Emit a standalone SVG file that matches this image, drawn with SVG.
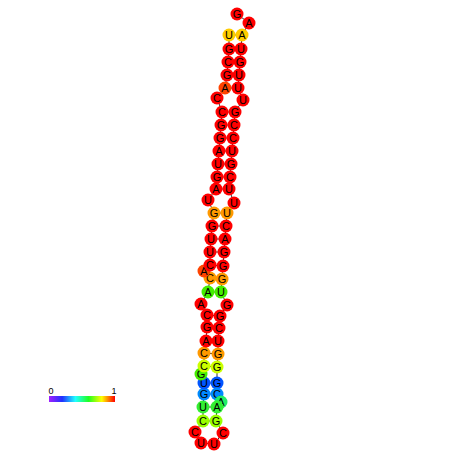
<svg xmlns="http://www.w3.org/2000/svg" width="452" height="452" viewBox="0 0 452 452">
<style>
.bb{stroke:#333;stroke-width:1;fill:none}
.pr{stroke:#333;stroke-width:1;fill:none}
circle{r:6.5;stroke:none}
text{font-family:"Liberation Sans",Arial,sans-serif;font-size:11px;text-anchor:middle;fill:#000}
.r circle{fill:#ff0000}
.o circle{fill:#ff9900}
.or circle{fill:#ff4400}
.y circle{fill:#ffcc00}
.yg circle{fill:#ccff00}
.lg circle{fill:#99ff00}
.g circle{fill:#44ee00}
.g2 circle{fill:#33ee33}
.gc circle{fill:#22ee66}
.b circle{fill:#0055ff}
.b2 circle{fill:#0088ff}
.lab{font-size:9px}
</style>
<defs>
<linearGradient id="cb" x1="0" x2="1" y1="0" y2="0">
<stop offset="0" stop-color="#a020ff"/>
<stop offset="0.2" stop-color="#2030ff"/>
<stop offset="0.4" stop-color="#20ffff"/>
<stop offset="0.6" stop-color="#20ff20"/>
<stop offset="0.8" stop-color="#ffff00"/>
<stop offset="1" stop-color="#ff0000"/>
</linearGradient>
</defs>
<g id="connectors">
<polyline class="bb" points="237,14 249,23 242,35 241,49 240,62 239,75 238,88 243,100 235,112 234,125 233,138 232,151 231,164 230,177 229,189 234,203 227,213 226,226 225,239 224,252 223,266 222,279 221,292 227,305 220,316 219,328 218,341 218,354 217,367 217,383 217,394 221,402 217,407 216,421 223,433 214,444 201,443 195,432 203,421 203,407 204,394 204,383 201,374 204,366 204,353 206,341 207,327 207,315 201,304 208,292 210,278 204,271 210,265 210,252 211,239 212,226 214,213 208,200 216,189 217,177 218,164 219,151 220,138 221,125 222,112 217,98 225,88 227,75 228,62 229,49 229,35"/>
<path class="pr" d="M242,35H229M241,49L229,49M240,62L228,62M239,75L227,75M238,88L225,88M235,112L222,112M234,125L221,125M233,138L220,138M232,151L219,151M231,164L218,164M230,177L217,177M229,189L216,189M227,213L214,213M226,226L212,226M225,239L211,239M224,252L210,252M223,266L210,265M222,279L210,278M221,292L208,292M220,316L207,315M219,328L207,327M218,341L206,341M218,354L204,353M217,367L204,366M217,383L204,383M217,394L204,394M217,407L203,407M216,421L203,421"/>
</g>
<g id="n1" class="r"><circle cx="237" cy="14"/><text x="237" y="18">G</text></g>
<g id="n2" class="r"><circle cx="249" cy="23"/><text x="249" y="27">A</text></g>
<g id="n3" class="y"><circle cx="242" cy="35"/><text x="242" y="39">A</text></g>
<g id="n4" class="r"><circle cx="241" cy="49"/><text x="241" y="53">U</text></g>
<g id="n5" class="r"><circle cx="240" cy="62"/><text x="240" y="66">G</text></g>
<g id="n6" class="r"><circle cx="239" cy="75"/><text x="239" y="79">U</text></g>
<g id="n7" class="r"><circle cx="238" cy="88"/><text x="238" y="92">U</text></g>
<g id="n8" class="r"><circle cx="243" cy="100"/><text x="243" y="104">U</text></g>
<g id="n9" class="r"><circle cx="235" cy="112"/><text x="235" y="116">G</text></g>
<g id="n10" class="r"><circle cx="234" cy="125"/><text x="234" y="129">C</text></g>
<g id="n11" class="r"><circle cx="233" cy="138"/><text x="233" y="142">C</text></g>
<g id="n12" class="r"><circle cx="232" cy="151"/><text x="232" y="155">U</text></g>
<g id="n13" class="r"><circle cx="231" cy="164"/><text x="231" y="168">G</text></g>
<g id="n14" class="r"><circle cx="230" cy="177"/><text x="230" y="181">C</text></g>
<g id="n15" class="r"><circle cx="229" cy="189"/><text x="229" y="193">U</text></g>
<g id="n16" class="r"><circle cx="234" cy="203"/><text x="234" y="207">U</text></g>
<g id="n17" class="o"><circle cx="227" cy="213"/><text x="227" y="217">U</text></g>
<g id="n18" class="r"><circle cx="226" cy="226"/><text x="226" y="230">C</text></g>
<g id="n19" class="r"><circle cx="225" cy="239"/><text x="225" y="243">A</text></g>
<g id="n20" class="r"><circle cx="224" cy="252"/><text x="224" y="256">G</text></g>
<g id="n21" class="r"><circle cx="223" cy="266"/><text x="223" y="270">G</text></g>
<g id="n22" class="o"><circle cx="222" cy="279"/><text x="222" y="283">G</text></g>
<g id="n23" class="g"><circle cx="221" cy="292"/><text x="221" y="296">U</text></g>
<g id="n24" class="r"><circle cx="227" cy="305"/><text x="227" y="309">G</text></g>
<g id="n25" class="r"><circle cx="220" cy="316"/><text x="220" y="320">G</text></g>
<g id="n26" class="r"><circle cx="219" cy="328"/><text x="219" y="332">C</text></g>
<g id="n27" class="r"><circle cx="218" cy="341"/><text x="218" y="345">U</text></g>
<g id="n28" class="o"><circle cx="218" cy="354"/><text x="218" y="358">G</text></g>
<g id="n29" class="yg"><circle cx="217" cy="367"/><text x="217" y="371">G</text></g>
<g id="n30" class="b"><circle cx="217" cy="383"/><text x="217" y="387">G</text></g>
<g id="n31" class="b2"><circle cx="217" cy="394"/><text x="217" y="398">C</text></g>
<g id="n32" class="gc"><circle cx="221" cy="402"/><text x="221" y="406">A</text></g>
<g id="n33" class="g2"><circle cx="217" cy="407"/><text x="217" y="411">A</text></g>
<g id="n34" class="lg"><circle cx="216" cy="421"/><text x="216" y="425">G</text></g>
<g id="n35" class="r"><circle cx="223" cy="433"/><text x="223" y="437">C</text></g>
<g id="n36" class="r"><circle cx="214" cy="444"/><text x="214" y="448">U</text></g>
<g id="n37" class="r"><circle cx="201" cy="443"/><text x="201" y="447">U</text></g>
<g id="n38" class="r"><circle cx="195" cy="432"/><text x="195" y="436">C</text></g>
<g id="n39" class="lg"><circle cx="203" cy="421"/><text x="203" y="425">C</text></g>
<g id="n40" class="g2"><circle cx="203" cy="407"/><text x="203" y="411">U</text></g>
<g id="n41" class="b2"><circle cx="204" cy="394"/><text x="204" y="398">G</text></g>
<g id="n42" class="b"><circle cx="204" cy="383"/><text x="204" y="387">U</text></g>
<g id="n43" class="g"><circle cx="201" cy="374"/><text x="201" y="378">G</text></g>
<g id="n44" class="yg"><circle cx="204" cy="366"/><text x="204" y="370">C</text></g>
<g id="n45" class="o"><circle cx="204" cy="353"/><text x="204" y="357">C</text></g>
<g id="n46" class="r"><circle cx="206" cy="341"/><text x="206" y="345">A</text></g>
<g id="n47" class="r"><circle cx="207" cy="327"/><text x="207" y="331">G</text></g>
<g id="n48" class="r"><circle cx="207" cy="315"/><text x="207" y="319">C</text></g>
<g id="n49" class="r"><circle cx="201" cy="304"/><text x="201" y="308">A</text></g>
<g id="n50" class="g"><circle cx="208" cy="292"/><text x="208" y="296">A</text></g>
<g id="n51" class="o"><circle cx="210" cy="278"/><text x="210" y="282">C</text></g>
<g id="n52" class="or"><circle cx="204" cy="271"/><text x="204" y="275">A</text></g>
<g id="n53" class="r"><circle cx="210" cy="265"/><text x="210" y="269">C</text></g>
<g id="n54" class="r"><circle cx="210" cy="252"/><text x="210" y="256">U</text></g>
<g id="n55" class="r"><circle cx="211" cy="239"/><text x="211" y="243">U</text></g>
<g id="n56" class="r"><circle cx="212" cy="226"/><text x="212" y="230">G</text></g>
<g id="n57" class="o"><circle cx="214" cy="213"/><text x="214" y="217">G</text></g>
<g id="n58" class="r"><circle cx="208" cy="200"/><text x="208" y="204">U</text></g>
<g id="n59" class="r"><circle cx="216" cy="189"/><text x="216" y="193">A</text></g>
<g id="n60" class="r"><circle cx="217" cy="177"/><text x="217" y="181">G</text></g>
<g id="n61" class="r"><circle cx="218" cy="164"/><text x="218" y="168">U</text></g>
<g id="n62" class="r"><circle cx="219" cy="151"/><text x="219" y="155">A</text></g>
<g id="n63" class="r"><circle cx="220" cy="138"/><text x="220" y="142">G</text></g>
<g id="n64" class="r"><circle cx="221" cy="125"/><text x="221" y="129">G</text></g>
<g id="n65" class="r"><circle cx="222" cy="112"/><text x="222" y="116">C</text></g>
<g id="n66" class="r"><circle cx="217" cy="98"/><text x="217" y="102">C</text></g>
<g id="n67" class="or"><circle cx="225" cy="88"/><text x="225" y="92">A</text></g>
<g id="n68" class="r"><circle cx="227" cy="75"/><text x="227" y="79">G</text></g>
<g id="n69" class="r"><circle cx="228" cy="62"/><text x="228" y="66">C</text></g>
<g id="n70" class="r"><circle cx="229" cy="49"/><text x="229" y="53">G</text></g>
<g id="n71" class="y"><circle cx="229" cy="35"/><text x="229" y="39">U</text></g>
<g id="colorbar">
<rect x="49" y="396" width="66" height="6" fill="url(#cb)"/>
<text class="lab" x="51" y="394">0</text>
<text class="lab" x="114" y="394">1</text>
</g>
</svg>
